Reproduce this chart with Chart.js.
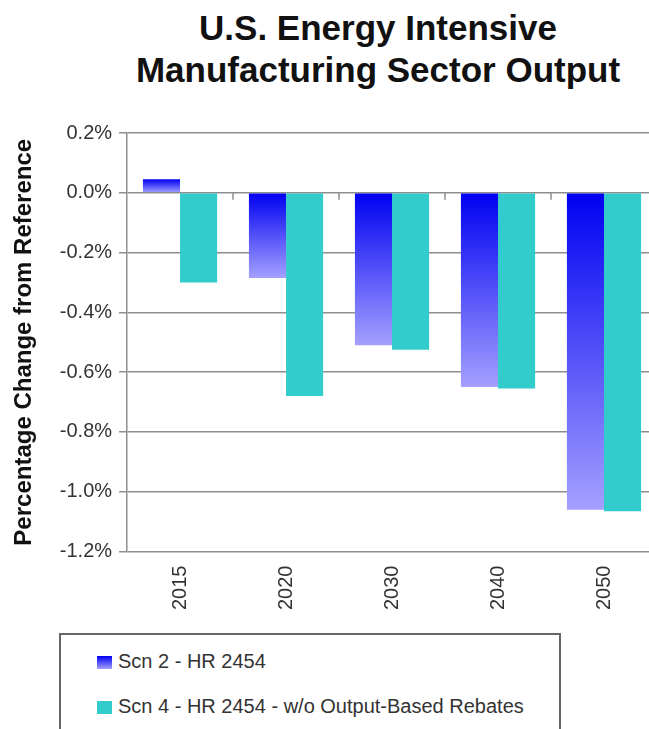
<!DOCTYPE html>
<html>
<head>
<meta charset="utf-8">
<script src="https://cdn.jsdelivr.net/npm/chart.js@4"></script>
<style>
  body { margin: 0; width: 649px; height: 729px; overflow: hidden; background: #fff; }
  #page { position: relative; width: 649px; height: 729px; font-family: 'Liberation Sans', Arial, sans-serif; }
  #title { position: absolute; left: 0; top: 7px; width: 756px; text-align: center; font-weight: bold; font-size: 35px; line-height: 42px; color: #111; }
  #chartBox { position: absolute; left: 0; top: 110px; width: 660px; height: 524px; }
  #legend { position: absolute; left: 59px; top: 633px; width: 502px; height: 120px; border: 2px solid #666; box-sizing: border-box; background: #fff; }
  .item { position: absolute; left: 36px; font-size: 20px; color: #333; white-space: nowrap; line-height: 24px; }
  .swatch { display: inline-block; width: 15px; height: 13px; margin-right: 6px; vertical-align: -1px; }
</style>
</head>
<body>
<div id="page">
  <div id="title">U.S. Energy Intensive<br>Manufacturing Sector Output</div>
  <div id="chartBox"><canvas id="outputChart"></canvas></div>
  <div id="legend"></div>
</div>
<script>
const years = ['2015', '2020', '2030', '2040', '2050'];
const scn2Values = [0.045, -0.285, -0.51, -0.65, -1.06];
const scn4Values = [-0.30, -0.68, -0.525, -0.655, -1.065];
const seriesNames = ['Scn 2 - HR 2454', 'Scn 4 - HR 2454 - w/o Output-Based Rebates'];
const yTicks = [0.2, 0.0, -0.2, -0.4, -0.6, -0.8, -1.0, -1.2];

const FONT = "'Liberation Sans', Arial, sans-serif";
const GRID = '#8e8e8e';
const BLUE_TOP = '#0000f2';
const BLUE_BOTTOM = '#a4a0ff';
const CYAN = '#33cccc';

// each blue bar fades from dark to light along its own length
function blueGradient(ctx) {
  const chart = ctx.chart;
  if (!chart.chartArea || ctx.raw === undefined) return BLUE_TOP;
  const y = chart.scales.y;
  const top = y.getPixelForValue(Math.max(ctx.raw, 0));
  const bottom = y.getPixelForValue(Math.min(ctx.raw, 0));
  const g = chart.ctx.createLinearGradient(0, top, 0, bottom === top ? top + 1 : bottom);
  g.addColorStop(0, BLUE_TOP);
  g.addColorStop(1, BLUE_BOTTOM);
  return g;
}

// small tick marks hanging under the zero line between categories
const zeroTicks = {
  id: 'zeroTicks',
  afterDatasetsDraw(chart) {
    const { ctx, scales: { x, y } } = chart;
    const y0 = y.getPixelForValue(0);
    ctx.save();
    ctx.strokeStyle = GRID;
    ctx.lineWidth = 1.5;
    for (let i = 1; i < years.length; i++) {
      const xb = (x.getPixelForValue(i - 1) + x.getPixelForValue(i)) / 2;
      ctx.beginPath();
      ctx.moveTo(xb, y0);
      ctx.lineTo(xb, y0 + 7);
      ctx.stroke();
    }
    ctx.restore();
  }
};

const chart = new Chart(document.getElementById('outputChart'), {
  type: 'bar',
  data: {
    labels: years,
    datasets: [
      { label: seriesNames[0], data: scn2Values, backgroundColor: blueGradient },
      { label: seriesNames[1], data: scn4Values, backgroundColor: CYAN }
    ]
  },
  options: {
    responsive: true,
    maintainAspectRatio: false,
    animation: false,
    layout: { padding: { left: 6, right: 3, top: 23, bottom: 10 } },
    datasets: { bar: { categoryPercentage: 0.7, barPercentage: 1.0, borderWidth: 0 } },
    plugins: {
      legend: { display: false },
      title: { display: false },
      tooltip: { enabled: false }
    },
    scales: {
      x: {
        grid: { display: false, drawTicks: false },
        border: { display: false },
        ticks: {
          minRotation: 90, maxRotation: 90, padding: 14,
          color: '#333', font: { family: FONT, size: 20 }
        }
      },
      y: {
        min: -1.2,
        max: 0.2,
        afterBuildTicks: axis => { axis.ticks = yTicks.map(v => ({ value: v })); },
        grid: { color: GRID, lineWidth: 1.5, tickLength: 8 },
        border: { color: GRID, width: 1.5 },
        ticks: {
          padding: 7,
          color: '#333',
          font: { family: FONT, size: 20 },
          callback: v => v.toFixed(1) + '%'
        },
        title: {
          display: true,
          text: 'Percentage Change from Reference',
          color: '#111',
          font: { family: FONT, size: 24, weight: 'bold' },
          padding: { top: 4, bottom: 14 }
        }
      }
    }
  },
  plugins: [zeroTicks]
});

// legend listed one series per row inside a framed box
const legendBox = document.getElementById('legend');
chart.data.datasets.forEach((ds, i) => {
  const row = document.createElement('div');
  row.className = 'item';
  row.style.top = (14 + i * 45) + 'px';
  const sw = document.createElement('span');
  sw.className = 'swatch';
  sw.style.background = i === 0
    ? 'linear-gradient(' + BLUE_TOP + ', ' + BLUE_BOTTOM + ')'
    : CYAN;
  row.appendChild(sw);
  row.appendChild(document.createTextNode(ds.label));
  legendBox.appendChild(row);
});
</script>
</body>
</html>
